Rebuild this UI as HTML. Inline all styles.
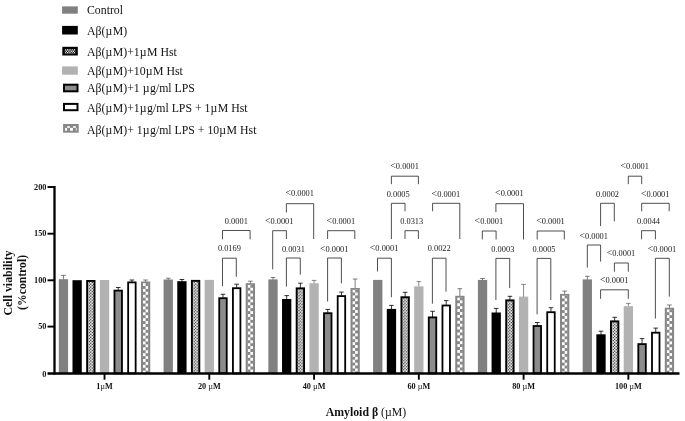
<!DOCTYPE html>
<html><head><meta charset="utf-8"><title>Cell viability</title>
<style>html,body{margin:0;padding:0;background:#fff}body{width:685px;height:421px;overflow:hidden}svg{display:block;filter:blur(0.35px)}text{font-family:"Liberation Serif","DejaVu Serif",serif;fill:#111}.b{font-weight:bold}.n{font-weight:normal}.p{font-size:8.4px;text-anchor:middle;fill:#1a1a1a}.lt{font-size:9.8px}.lg{font-size:11.8px}.mu{letter-spacing:0.5px}.tk{font-size:7.3px;font-weight:bold}.br{fill:none;stroke:#222;stroke-width:0.8}</style></head><body>
<svg width="685" height="421" viewBox="0 0 685 421">
<defs>
<pattern id="ck" x="-0.7375" y="0" width="2.95" height="2.95" patternUnits="userSpaceOnUse"><rect width="2.95" height="2.95" fill="#000"/><rect x="-0.2" y="-0.2" width="1.875" height="1.875" fill="#fff"/><rect x="1.2750000000000001" y="1.2750000000000001" width="1.875" height="1.875" fill="#fff"/><rect x="2.75" y="-0.2" width="0.2" height="1.875" fill="#fff"/><rect x="0" y="2.75" width="1.675" height="0.2" fill="#fff"/></pattern>
<pattern id="gk" x="0" y="0" width="5.84" height="5.84" patternUnits="userSpaceOnUse"><rect width="5.84" height="5.84" fill="#878787"/><rect x="0" y="2.92" width="2.92" height="2.92" fill="#fff"/><rect x="2.92" y="0" width="2.92" height="2.92" fill="#fff"/></pattern>
<pattern id="lk" x="0" y="0" width="2.3" height="3" patternUnits="userSpaceOnUse"><rect width="2.3" height="3" fill="#000"/><rect x="0" y="0" width="1.15" height="1.5" fill="#fff"/><rect x="1.15" y="1.5" width="1.15" height="1.5" fill="#fff"/></pattern>
</defs>
<rect width="685" height="421" fill="#fff"/>
<rect x="62.1" y="6.4" width="15.7" height="7.3" fill="#808080"/>
<text class="lg" x="87.0" y="13.9">Control</text>
<rect x="62.1" y="25.9" width="15.7" height="8.6" fill="#000"/>
<text class="lg" x="87.0" y="35.2">Aβ(<tspan class="mu">µ</tspan>M)</text>
<rect x="62.3" y="46.8" width="15.5" height="8.7" fill="#000"/>
<g transform="translate(64.8 49.1)"><rect x="0" y="0" width="10.5" height="4.5" fill="url(#lk)"/></g>
<text class="lg" x="87.0" y="56.1">Aβ(<tspan class="mu">µ</tspan>M)+1<tspan class="mu">µ</tspan>M Hst</text>
<rect x="62.1" y="66.4" width="15.7" height="8.3" fill="#b2b2b2"/>
<text class="lg" x="87.0" y="74.8">Aβ(<tspan class="mu">µ</tspan>M)+10<tspan class="mu">µ</tspan>M Hst</text>
<rect x="64.0" y="84.7" width="13.5" height="6.6" fill="#8c8c8c" stroke="#000" stroke-width="2"/>
<text class="lg" x="87.0" y="92.3">Aβ(<tspan class="mu">µ</tspan>M)+1 <tspan class="mu">µ</tspan>g/ml LPS</text>
<rect x="64.0" y="103.9" width="13.5" height="6.3" fill="#fff" stroke="#000" stroke-width="2"/>
<text class="lg" x="87.0" y="111.7">Aβ(<tspan class="mu">µ</tspan>M)+1<tspan class="mu">µ</tspan>g/ml LPS + 1<tspan class="mu">µ</tspan>M Hst</text>
<rect x="63.1" y="124.0" width="15.6" height="8.7" fill="#878787"/>
<rect x="67.1" y="126.2" width="2.8" height="1.6" fill="#fff"/><rect x="73.0" y="126.2" width="2.9" height="1.6" fill="#fff"/>
<rect x="65.1" y="127.9" width="2.0" height="2.9" fill="#fff"/><rect x="70.0" y="127.9" width="2.9" height="2.9" fill="#fff"/><rect x="75.7" y="127.9" width="1.4" height="2.9" fill="#c8c8c8"/>
<text class="lg" x="87.0" y="133.5">Aβ(<tspan class="mu">µ</tspan>M)+ 1<tspan class="mu">µ</tspan>g/ml LPS + 10<tspan class="mu">µ</tspan>M Hst</text>
<path d="M63.45 279.70V275.40M61.15 275.40H65.75" stroke="#5a5a5a" stroke-width="0.8" fill="none"/>
<rect x="58.80" y="279.20" width="9.3" height="94.30" fill="#808080"/>
<rect x="72.49" y="280.20" width="9.3" height="93.30" fill="#000"/>
<rect x="86.18" y="280.00" width="9.3" height="93.50" fill="#000"/>
<g transform="translate(90.83 281.90)"><rect x="-2.75" y="0" width="5.5" height="91.60" fill="url(#ck)"/></g>
<rect x="99.87" y="280.00" width="9.3" height="93.50" fill="#b2b2b2"/>
<path d="M118.21 290.20V287.50M115.91 287.50H120.51" stroke="#000" stroke-width="0.8" fill="none"/>
<rect x="114.46" y="290.60" width="7.500000000000001" height="82.90" fill="#8c8c8c" stroke="#000" stroke-width="1.8"/>
<path d="M131.90 282.00V280.00M129.60 280.00H134.20" stroke="#000" stroke-width="0.8" fill="none"/>
<rect x="128.15" y="282.40" width="7.500000000000001" height="91.10" fill="#fff" stroke="#000" stroke-width="1.8"/>
<path d="M145.59 282.00V280.00M143.29 280.00H147.89" stroke="#5a5a5a" stroke-width="0.8" fill="none"/>
<rect x="140.94" y="281.50" width="9.3" height="92.00" fill="#878787"/>
<g transform="translate(145.59 283.10)"><rect x="-2.6" y="0" width="5.2" height="90.40" fill="url(#gk)"/></g>
<path d="M168.22 280.00V278.20M165.92 278.20H170.52" stroke="#5a5a5a" stroke-width="0.8" fill="none"/>
<rect x="163.57" y="279.50" width="9.3" height="94.00" fill="#808080"/>
<path d="M181.91 281.70V279.50M179.61 279.50H184.21" stroke="#000" stroke-width="0.8" fill="none"/>
<rect x="177.26" y="281.20" width="9.3" height="92.30" fill="#000"/>
<rect x="190.95" y="279.90" width="9.3" height="93.60" fill="#000"/>
<g transform="translate(195.60 281.80)"><rect x="-2.75" y="0" width="5.5" height="91.70" fill="url(#ck)"/></g>
<rect x="204.64" y="279.90" width="9.3" height="93.60" fill="#b2b2b2"/>
<path d="M222.98 297.80V294.30M220.68 294.30H225.28" stroke="#000" stroke-width="0.8" fill="none"/>
<rect x="219.23" y="298.20" width="7.500000000000001" height="75.30" fill="#8c8c8c" stroke="#000" stroke-width="1.8"/>
<path d="M236.67 287.80V284.20M234.37 284.20H238.97" stroke="#000" stroke-width="0.8" fill="none"/>
<rect x="232.92" y="288.20" width="7.500000000000001" height="85.30" fill="#fff" stroke="#000" stroke-width="1.8"/>
<path d="M250.36 283.70V281.20M248.06 281.20H252.66" stroke="#5a5a5a" stroke-width="0.8" fill="none"/>
<rect x="245.71" y="283.20" width="9.3" height="90.30" fill="#878787"/>
<g transform="translate(250.36 284.80)"><rect x="-2.6" y="0" width="5.2" height="88.70" fill="url(#gk)"/></g>
<path d="M272.99 279.90V277.50M270.69 277.50H275.29" stroke="#5a5a5a" stroke-width="0.8" fill="none"/>
<rect x="268.34" y="279.40" width="9.3" height="94.10" fill="#808080"/>
<path d="M286.68 299.50V295.60M284.38 295.60H288.98" stroke="#000" stroke-width="0.8" fill="none"/>
<rect x="282.03" y="299.00" width="9.3" height="74.50" fill="#000"/>
<path d="M300.37 287.90V283.20M298.07 283.20H302.67" stroke="#000" stroke-width="0.8" fill="none"/>
<rect x="295.72" y="287.40" width="9.3" height="86.10" fill="#000"/>
<g transform="translate(300.37 289.30)"><rect x="-2.75" y="0" width="5.5" height="84.20" fill="url(#ck)"/></g>
<path d="M314.06 283.70V280.40M311.76 280.40H316.36" stroke="#6a6a6a" stroke-width="0.8" fill="none"/>
<rect x="309.41" y="283.20" width="9.3" height="90.30" fill="#b2b2b2"/>
<path d="M327.75 312.80V309.40M325.45 309.40H330.05" stroke="#000" stroke-width="0.8" fill="none"/>
<rect x="324.00" y="313.20" width="7.500000000000001" height="60.30" fill="#8c8c8c" stroke="#000" stroke-width="1.8"/>
<path d="M341.44 295.70V292.10M339.14 292.10H343.74" stroke="#000" stroke-width="0.8" fill="none"/>
<rect x="337.69" y="296.10" width="7.500000000000001" height="77.40" fill="#fff" stroke="#000" stroke-width="1.8"/>
<path d="M355.13 288.50V279.00M352.83 279.00H357.43" stroke="#5a5a5a" stroke-width="0.8" fill="none"/>
<rect x="350.48" y="288.00" width="9.3" height="85.50" fill="#878787"/>
<g transform="translate(355.13 289.60)"><rect x="-2.6" y="0" width="5.2" height="83.90" fill="url(#gk)"/></g>
<rect x="373.11" y="279.90" width="9.3" height="93.60" fill="#808080"/>
<path d="M391.45 309.40V305.40M389.15 305.40H393.75" stroke="#000" stroke-width="0.8" fill="none"/>
<rect x="386.80" y="308.90" width="9.3" height="64.60" fill="#000"/>
<path d="M405.14 296.80V292.30M402.84 292.30H407.44" stroke="#000" stroke-width="0.8" fill="none"/>
<rect x="400.49" y="296.30" width="9.3" height="77.20" fill="#000"/>
<g transform="translate(405.14 298.20)"><rect x="-2.75" y="0" width="5.5" height="75.30" fill="url(#ck)"/></g>
<path d="M418.83 286.80V281.60M416.53 281.60H421.13" stroke="#6a6a6a" stroke-width="0.8" fill="none"/>
<rect x="414.18" y="286.30" width="9.3" height="87.20" fill="#b2b2b2"/>
<path d="M432.52 317.00V311.30M430.22 311.30H434.82" stroke="#000" stroke-width="0.8" fill="none"/>
<rect x="428.77" y="317.40" width="7.500000000000001" height="56.10" fill="#8c8c8c" stroke="#000" stroke-width="1.8"/>
<path d="M446.21 305.10V300.60M443.91 300.60H448.51" stroke="#000" stroke-width="0.8" fill="none"/>
<rect x="442.46" y="305.50" width="7.500000000000001" height="68.00" fill="#fff" stroke="#000" stroke-width="1.8"/>
<path d="M459.90 296.30V288.70M457.60 288.70H462.20" stroke="#5a5a5a" stroke-width="0.8" fill="none"/>
<rect x="455.25" y="295.80" width="9.3" height="77.70" fill="#878787"/>
<g transform="translate(459.90 297.40)"><rect x="-2.6" y="0" width="5.2" height="76.10" fill="url(#gk)"/></g>
<path d="M482.53 280.40V278.50M480.23 278.50H484.83" stroke="#5a5a5a" stroke-width="0.8" fill="none"/>
<rect x="477.88" y="279.90" width="9.3" height="93.60" fill="#808080"/>
<path d="M496.22 313.00V308.40M493.92 308.40H498.52" stroke="#000" stroke-width="0.8" fill="none"/>
<rect x="491.57" y="312.50" width="9.3" height="61.00" fill="#000"/>
<path d="M509.91 299.90V296.30M507.61 296.30H512.21" stroke="#000" stroke-width="0.8" fill="none"/>
<rect x="505.26" y="299.40" width="9.3" height="74.10" fill="#000"/>
<g transform="translate(509.91 301.30)"><rect x="-2.75" y="0" width="5.5" height="72.20" fill="url(#ck)"/></g>
<path d="M523.60 297.10V284.40M521.30 284.40H525.90" stroke="#6a6a6a" stroke-width="0.8" fill="none"/>
<rect x="518.95" y="296.60" width="9.3" height="76.90" fill="#b2b2b2"/>
<path d="M537.29 325.60V322.50M534.99 322.50H539.59" stroke="#000" stroke-width="0.8" fill="none"/>
<rect x="533.54" y="326.00" width="7.500000000000001" height="47.50" fill="#8c8c8c" stroke="#000" stroke-width="1.8"/>
<path d="M550.98 311.80V307.70M548.68 307.70H553.28" stroke="#000" stroke-width="0.8" fill="none"/>
<rect x="547.23" y="312.20" width="7.500000000000001" height="61.30" fill="#fff" stroke="#000" stroke-width="1.8"/>
<path d="M564.67 294.40V291.10M562.37 291.10H566.97" stroke="#5a5a5a" stroke-width="0.8" fill="none"/>
<rect x="560.02" y="293.90" width="9.3" height="79.60" fill="#878787"/>
<g transform="translate(564.67 295.50)"><rect x="-2.6" y="0" width="5.2" height="78.00" fill="url(#gk)"/></g>
<path d="M587.30 279.90V276.30M585.00 276.30H589.60" stroke="#5a5a5a" stroke-width="0.8" fill="none"/>
<rect x="582.65" y="279.40" width="9.3" height="94.10" fill="#808080"/>
<path d="M600.99 334.80V331.20M598.69 331.20H603.29" stroke="#000" stroke-width="0.8" fill="none"/>
<rect x="596.34" y="334.30" width="9.3" height="39.20" fill="#000"/>
<path d="M614.68 320.90V317.30M612.38 317.30H616.98" stroke="#000" stroke-width="0.8" fill="none"/>
<rect x="610.03" y="320.40" width="9.3" height="53.10" fill="#000"/>
<g transform="translate(614.68 322.30)"><rect x="-2.75" y="0" width="5.5" height="51.20" fill="url(#ck)"/></g>
<path d="M628.37 306.70V303.40M626.07 303.40H630.67" stroke="#6a6a6a" stroke-width="0.8" fill="none"/>
<rect x="623.72" y="306.20" width="9.3" height="67.30" fill="#b2b2b2"/>
<path d="M642.06 343.70V338.60M639.76 338.60H644.36" stroke="#000" stroke-width="0.8" fill="none"/>
<rect x="638.31" y="344.10" width="7.500000000000001" height="29.40" fill="#8c8c8c" stroke="#000" stroke-width="1.8"/>
<path d="M655.75 332.30V328.10M653.45 328.10H658.05" stroke="#000" stroke-width="0.8" fill="none"/>
<rect x="652.00" y="332.70" width="7.500000000000001" height="40.80" fill="#fff" stroke="#000" stroke-width="1.8"/>
<path d="M669.44 308.20V305.00M667.14 305.00H671.74" stroke="#5a5a5a" stroke-width="0.8" fill="none"/>
<rect x="664.79" y="307.70" width="9.3" height="65.80" fill="#878787"/>
<g transform="translate(669.44 309.30)"><rect x="-2.6" y="0" width="5.2" height="64.20" fill="url(#gk)"/></g>
<rect x="0" y="374.6" width="685" height="12" fill="#fff"/>
<path d="M54.5 186V374.65" stroke="#000" stroke-width="2.3" fill="none"/>
<path d="M47.5 373.5H679.5" stroke="#000" stroke-width="2.3" fill="none"/>
<text class="tk" transform="translate(46.5 376.9) scale(1.14 1)" text-anchor="end">0</text>
<path d="M47.5 326.6H54.5" stroke="#000" stroke-width="1.9"/>
<text class="tk" transform="translate(46.5 329.2) scale(1.14 1)" text-anchor="end">50</text>
<path d="M47.5 280.3H54.5" stroke="#000" stroke-width="1.9"/>
<text class="tk" transform="translate(46.5 282.9) scale(1.14 1)" text-anchor="end">100</text>
<path d="M47.5 233.7H54.5" stroke="#000" stroke-width="1.9"/>
<text class="tk" transform="translate(46.5 236.3) scale(1.14 1)" text-anchor="end">150</text>
<path d="M47.5 187.0H54.5" stroke="#000" stroke-width="1.9"/>
<text class="tk" transform="translate(46.5 189.6) scale(1.14 1)" text-anchor="end">200</text>
<path d="M104.52 373.5V379.7" stroke="#000" stroke-width="1.9"/>
<text class="tk" transform="translate(104.52 389.1) scale(1.13 1)" text-anchor="middle">1<tspan class="n">µ</tspan>M</text>
<path d="M209.29 373.5V379.7" stroke="#000" stroke-width="1.9"/>
<text class="tk" transform="translate(209.29 389.1) scale(1.13 1)" text-anchor="middle">20 <tspan class="n">µ</tspan>M</text>
<path d="M314.06 373.5V379.7" stroke="#000" stroke-width="1.9"/>
<text class="tk" transform="translate(314.06 389.1) scale(1.13 1)" text-anchor="middle">40 <tspan class="n">µ</tspan>M</text>
<path d="M418.83 373.5V379.7" stroke="#000" stroke-width="1.9"/>
<text class="tk" transform="translate(418.83 389.1) scale(1.13 1)" text-anchor="middle">60 <tspan class="n">µ</tspan>M</text>
<path d="M523.60 373.5V379.7" stroke="#000" stroke-width="1.9"/>
<text class="tk" transform="translate(523.60 389.1) scale(1.13 1)" text-anchor="middle">80 <tspan class="n">µ</tspan>M</text>
<path d="M628.37 373.5V379.7" stroke="#000" stroke-width="1.9"/>
<text class="tk" transform="translate(628.37 389.1) scale(1.13 1)" text-anchor="middle">100 <tspan class="n">µ</tspan>M</text>
<text class="b" font-size="11.9" text-anchor="middle" transform="translate(12.1 283.0) rotate(-90)">Cell viability</text>
<text class="b" font-size="11.7" text-anchor="middle" transform="translate(26.1 282.4) rotate(-90)">(%control)</text>
<text font-size="11.8" x="325.7" y="415.6"><tspan class="b">Amyloid β </tspan>(µM)</text>
<path class="br" d="M222.5 239.3V230.5H250.1V239.3"/>
<text class="p" x="236.3" y="223.9">0.0001</text>
<path class="br" d="M222.5 286.2V258.2H236.3V276.8"/>
<text class="p" x="229.4" y="251.4">0.0169</text>
<path class="br" d="M286.4 212.5V203.7H313.7V239.0"/>
<text class="p" x="299.7" y="196.4"><tspan class="lt">&lt;</tspan>0.0001</text>
<path class="br" d="M272.7 269.3V230.7H286.4V239.0"/>
<text class="p" x="279.2" y="223.8"><tspan class="lt">&lt;</tspan>0.0001</text>
<path class="br" d="M286.4 286.6V258.0H300.3V274.6"/>
<text class="p" x="293.4" y="251.5">0.0031</text>
<path class="br" d="M327.6 239.0V230.7H354.8V239.0"/>
<text class="p" x="340.9" y="223.8"><tspan class="lt">&lt;</tspan>0.0001</text>
<path class="br" d="M327.6 301.5V258.0H341.4V283.3"/>
<text class="p" x="334.2" y="251.5"><tspan class="lt">&lt;</tspan>0.0001</text>
<path class="br" d="M391.4 184.2V176.2H418.4V184.2"/>
<text class="p" x="404.6" y="169.3"><tspan class="lt">&lt;</tspan>0.0001</text>
<path class="br" d="M391.4 239.0V203.3H405.0V211.3"/>
<text class="p" x="398.2" y="196.7">0.0005</text>
<path class="br" d="M432.6 211.3V203.3H459.8V239.0"/>
<text class="p" x="445.9" y="196.7"><tspan class="lt">&lt;</tspan>0.0001</text>
<path class="br" d="M405.0 239.0V230.7H418.4V239.0"/>
<text class="p" x="411.7" y="223.7">0.0313</text>
<path class="br" d="M377.5 271.5V258.2H391.4V297.2"/>
<text class="p" x="384.1" y="251.4"><tspan class="lt">&lt;</tspan>0.0001</text>
<path class="br" d="M432.4 303.6V258.2H446.0V291.7"/>
<text class="p" x="439.2" y="251.4">0.0022</text>
<path class="br" d="M495.9 212.2V203.7H523.5V239.5"/>
<text class="p" x="509.4" y="196.3"><tspan class="lt">&lt;</tspan>0.0001</text>
<path class="br" d="M482.3 239.5V231.0H496.1V239.5"/>
<text class="p" x="488.9" y="223.9"><tspan class="lt">&lt;</tspan>0.0001</text>
<path class="br" d="M537.2 239.5V231.0H564.3V239.5"/>
<text class="p" x="550.5" y="223.9"><tspan class="lt">&lt;</tspan>0.0001</text>
<path class="br" d="M495.9 300.0V258.4H509.7V288.1"/>
<text class="p" x="502.8" y="251.5">0.0003</text>
<path class="br" d="M537.1 314.3V258.4H550.8V300.0"/>
<text class="p" x="544.0" y="251.5">0.0005</text>
<path class="br" d="M628.3 184.2V176.2H641.7V184.2"/>
<text class="p" x="634.7" y="169.3"><tspan class="lt">&lt;</tspan>0.0001</text>
<path class="br" d="M600.6 226.1V203.3H614.3V221.3"/>
<text class="p" x="607.5" y="196.7">0.0002</text>
<path class="br" d="M641.7 211.3V203.3H669.2V211.3"/>
<text class="p" x="655.2" y="196.7"><tspan class="lt">&lt;</tspan>0.0001</text>
<path class="br" d="M641.6 239.3V230.7H655.4V239.3"/>
<text class="p" x="648.5" y="223.7">0.0044</text>
<path class="br" d="M587.3 267.6V245.0H600.6V261.6"/>
<text class="p" x="593.7" y="238.8"><tspan class="lt">&lt;</tspan>0.0001</text>
<path class="br" d="M614.4 271.7V263.0H628.3V271.7"/>
<text class="p" x="621.0" y="256.2"><tspan class="lt">&lt;</tspan>0.0001</text>
<path class="br" d="M600.6 298.8V289.8H628.3V298.8"/>
<text class="p" x="614.2" y="282.9"><tspan class="lt">&lt;</tspan>0.0001</text>
<path class="br" d="M655.4 318.5V258.3H669.3V296.6"/>
<text class="p" x="662.0" y="251.7"><tspan class="lt">&lt;</tspan>0.0001</text>
</svg></body></html>
